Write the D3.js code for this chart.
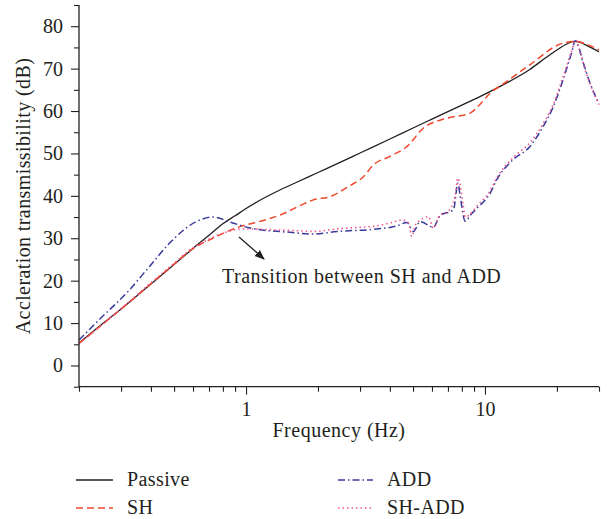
<!DOCTYPE html>
<html>
<head>
<meta charset="utf-8">
<script src="https://cdn.jsdelivr.net/npm/d3@7/dist/d3.min.js"></script>
<style>
  html, body { margin: 0; padding: 0; background: #fff; }
  svg { display: block; }
  text { font-family: "Liberation Serif", "Times New Roman", serif; fill: #231f20; }
</style>
</head>
<body>
<svg id="chart" width="611" height="519"></svg>
<script>
// Acceleration transmissibility (dB) vs. frequency (Hz)
const passiveFreq = [0.2, 0.25, 0.3, 0.4, 0.5, 0.6, 0.7, 0.8, 0.9, 1.0, 1.2, 1.4, 1.63, 2.0, 2.5, 3.0, 4.0, 5.0, 6.0, 8.0, 10.0, 12.0, 15.4, 18.0, 20.0, 22.0, 23.5, 25.0, 27.0, 30.0];
const passiveDb   = [5.3, 9.8, 13.3, 19.2, 23.8, 27.6, 30.7, 33.4, 35.3, 37.0, 39.6, 41.5, 43.2, 45.5, 48.0, 50.1, 53.4, 56.0, 58.1, 61.4, 64.0, 66.3, 69.8, 72.6, 74.4, 75.8, 76.4, 76.2, 75.3, 74.0];

const shFreq = [0.2, 0.3, 0.4, 0.5, 0.58, 0.725, 0.85, 0.95, 1.2, 1.39, 1.7, 1.92, 2.25, 2.7, 3.1, 3.41, 4.0, 4.71, 5.53, 6.92, 8.66, 9.5, 10.5, 12.0, 15.4, 21.2, 24.2, 27.0, 30.0];
const shDb   = [5.2, 13.3, 19.3, 23.9, 27.0, 30.0, 31.8, 32.8, 34.3, 35.5, 37.8, 39.1, 39.8, 42.3, 44.5, 47.3, 49.3, 51.6, 56.0, 58.3, 59.5, 61.5, 64.2, 66.5, 70.9, 76.0, 76.4, 75.6, 74.4];

const addFreq = [0.2, 0.244, 0.325, 0.394, 0.493, 0.618, 0.725, 0.879, 1.04, 1.53, 1.92, 2.4, 3.41, 4.27, 4.71, 5.02, 5.35, 6.08, 6.48, 7.38, 7.71, 7.86, 8.27, 8.7, 9.22, 10.5, 11.2, 13.1, 15.4, 17.5, 19.3, 21.2, 23.0, 23.9, 25.8, 27.5, 30.0];
const addDb   = [6.0, 10.9, 17.8, 23.3, 29.6, 33.9, 35.0, 33.6, 32.4, 31.4, 31.0, 31.6, 32.1, 32.9, 33.7, 31.6, 33.9, 32.6, 35.3, 36.7, 43.0, 40.2, 34.0, 35.5, 37.0, 40.6, 43.8, 48.5, 51.6, 56.3, 61.0, 67.3, 73.6, 76.6, 71.3, 66.6, 61.8];

const shAddFreq = [0.2, 0.3, 0.4, 0.5, 0.58, 0.7, 0.8, 0.9, 1.0, 1.3, 1.6, 1.92, 2.4, 3.0, 3.41, 4.0, 4.5, 4.8, 4.94, 5.1, 5.35, 5.8, 6.08, 6.48, 7.0, 7.5, 7.7, 7.9, 8.1, 8.27, 8.6, 9.22, 10.5, 11.2, 13.1, 15.4, 17.5, 19.3, 21.2, 23.0, 23.9, 25.0, 26.0, 27.5, 30.0];
const shAddDb   = [5.2, 13.4, 19.5, 24.1, 27.2, 29.8, 31.2, 32.0, 32.2, 32.0, 31.8, 31.6, 32.2, 32.6, 32.8, 33.6, 34.3, 33.5, 30.4, 33.0, 34.2, 35.1, 32.4, 35.5, 36.3, 40.0, 44.2, 42.0, 38.0, 35.0, 35.5, 37.5, 41.2, 44.2, 49.0, 52.5, 57.0, 61.5, 68.0, 74.0, 76.8, 74.0, 70.5, 66.5, 61.5];

const xTickValues = [0.2, 0.3, 0.4, 0.5, 0.6, 0.7, 0.8, 0.9, 1, 2, 3, 4, 5, 6, 7, 8, 9, 10, 20, 30];
const xTickLabels = { 1: "1", 10: "10" };
const yTickValues = [-5, 0, 5, 10, 15, 20, 25, 30, 35, 40, 45, 50, 55, 60, 65, 70, 75, 80, 85];
const yLabelValues = [0, 10, 20, 30, 40, 50, 60, 70, 80];

const seriesNames = ["Passive", "SH", "ADD", "SH-ADD"];

const svg = d3.select("#chart");
const plotLeft = 79, plotRight = 599, plotTop = 5, plotBottom = 386.7;

const x = d3.scaleLog().domain([0.2, 30]).range([plotLeft, plotRight]);
const y = d3.scaleLinear().domain([-5, 85]).range([plotBottom, plotTop]);

const styles = {
  "Passive": { color: "#231f20", width: 1.3, dash: null },
  "SH":      { color: "#ef4a2d", width: 1.5, dash: "7,4" },
  "ADD":     { color: "#38399c", width: 1.5, dash: "7,3,1.5,3" },
  "SH-ADD":  { color: "#f0558e", width: 1.6, dash: "1.5,3" }
};

const series = [
  { name: "Passive", f: passiveFreq, v: passiveDb },
  { name: "SH", f: shFreq, v: shDb },
  { name: "ADD", f: addFreq, v: addDb },
  { name: "SH-ADD", f: shAddFreq, v: shAddDb }
];

const line = d3.line()
  .x(d => x(d[0]))
  .y(d => y(d[1]))
  .curve(d3.curveMonotoneX);

// data lines (drawn first so the axes sit on top)
seriesNames.forEach(name => {
  const s = series.find(d => d.name === name);
  const st = styles[name];
  svg.append("path")
    .datum(d3.zip(s.f, s.v))
    .attr("d", line)
    .attr("fill", "none")
    .attr("stroke", st.color)
    .attr("stroke-width", st.width)
    .attr("stroke-dasharray", st.dash)
    .attr("stroke-linejoin", "round");
});

// x axis
const xAxis = d3.axisBottom(x)
  .tickValues(xTickValues)
  .tickSize(5)
  .tickPadding(10)
  .tickFormat(d => xTickLabels[d] || "");
const gx = svg.append("g").attr("transform", `translate(0,${plotBottom})`).call(xAxis);
gx.select(".domain").attr("d", `M${plotLeft},0H${plotRight}`).attr("stroke", "#231f20").attr("stroke-width", 1.3);
gx.selectAll(".tick line").attr("stroke", "#231f20").attr("stroke-width", 1.1)
  .attr("y2", d => xTickLabels[d] ? 8 : 5);
gx.selectAll(".tick text").attr("font-size", 20).attr("fill", "#231f20")
  .style("font-family", '"Liberation Serif", serif');

// y axis
const yAxis = d3.axisLeft(y)
  .tickValues(yTickValues)
  .tickSize(5)
  .tickPadding(8)
  .tickFormat(d => yLabelValues.includes(d) ? String(d) : "");
const gy = svg.append("g").attr("transform", `translate(${plotLeft},0)`).call(yAxis);
gy.select(".domain").attr("d", `M0,${plotTop}V${plotBottom}`).attr("stroke", "#231f20").attr("stroke-width", 1.3);
gy.selectAll(".tick line").attr("stroke", "#231f20").attr("stroke-width", 1.1)
  .attr("x2", d => yLabelValues.includes(d) ? -8 : -5);
gy.selectAll(".tick text").attr("font-size", 20).attr("fill", "#231f20")
  .attr("x", -16)
  .style("font-family", '"Liberation Serif", serif');

// axis titles
svg.append("text")
  .attr("x", (plotLeft + plotRight) / 2).attr("y", 437)
  .attr("text-anchor", "middle").attr("font-size", 20)
  .attr("letter-spacing", 0.5)
  .text("Frequency (Hz)");

svg.append("text")
  .attr("transform", `translate(30,196) rotate(-90)`)
  .attr("text-anchor", "middle").attr("font-size", 20)
  .attr("letter-spacing", 0.4)
  .text("Accleration transmissibility (dB)");

// annotation
svg.append("defs").append("marker")
  .attr("id", "arrowhead")
  .attr("viewBox", "0 0 10 10")
  .attr("refX", 9).attr("refY", 5)
  .attr("markerWidth", 10).attr("markerHeight", 10)
  .attr("markerUnits", "userSpaceOnUse")
  .attr("orient", "auto")
  .append("path").attr("d", "M0,1L10,5L0,9Z").attr("fill", "#231f20");

svg.append("line")
  .attr("x1", 239).attr("y1", 237)
  .attr("x2", 264).attr("y2", 259)
  .attr("stroke", "#231f20").attr("stroke-width", 1.3)
  .attr("marker-end", "url(#arrowhead)");

svg.append("text")
  .attr("x", 222).attr("y", 283)
  .attr("font-size", 20)
  .attr("letter-spacing", 0.5)
  .text("Transition between SH and ADD");

// legend
const legendItems = [
  { name: "Passive", x0: 76, x1: 113, y: 480 },
  { name: "SH",      x0: 76, x1: 113, y: 508 },
  { name: "ADD",     x0: 338, x1: 373, y: 480 },
  { name: "SH-ADD",  x0: 338, x1: 373, y: 508 }
];
legendItems.forEach(it => {
  const st = styles[it.name];
  svg.append("line")
    .attr("x1", it.x0).attr("x2", it.x1)
    .attr("y1", it.y).attr("y2", it.y)
    .attr("stroke", st.color)
    .attr("stroke-width", st.width)
    .attr("stroke-dasharray", st.dash);
  svg.append("text")
    .attr("x", it.x1 + 14).attr("y", it.y + 6)
    .attr("font-size", 20)
    .attr("letter-spacing", 0.4)
    .text(it.name);
});
</script>
</body>
</html>
